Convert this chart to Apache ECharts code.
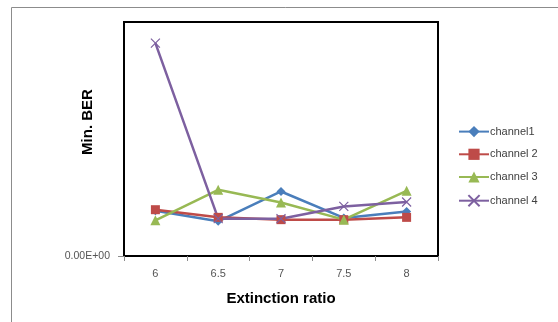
<!DOCTYPE html>
<html><head><meta charset="utf-8">
<script src="https://cdn.jsdelivr.net/npm/echarts@6/dist/echarts.min.js"></script>
<style>html,body{margin:0;padding:0;background:#fff}#c{width:558px;height:322px}</style>
</head><body><div id="c"></div>
<script>
const categories = ['6', '6.5', '7', '7.5', '8'];
const channel1 = [0.455, 0.348, 0.648, 0.382, 0.448];
const channel2 = [0.465, 0.388, 0.365, 0.365, 0.388];
const channel3 = [0.358, 0.665, 0.538, 0.365, 0.655];
const channel4 = [2.138, 0.375, 0.375, 0.498, 0.542];
const seriesNames = ['channel1', 'channel 2', 'channel 3', 'channel 4'];
const yMax = 2.35;

const chart = echarts.init(document.getElementById('c'), null, {renderer: 'canvas'});
const colors = ['#4A7EBB', '#BE4B48', '#98B954', '#7D60A0'];
const xPath = 'path://M0,0L10,10M10,0L0,10';
function mk(name, data, color, symbol, size, extra) {
  return Object.assign({
    name: name, type: 'line', data: data, symbol: symbol, symbolSize: size,
    showSymbol: true,
    lineStyle: {color: color, width: 2.5},
    itemStyle: {color: color},
    emphasis: {disabled: true},
    animation: false
  }, extra || {});
}
chart.setOption({
  animation: false,
  color: colors,
  graphic: [{
    type: 'rect', shape: {x: 11.5, y: 7.5, width: 700, height: 400},
    style: {fill: 'none', stroke: '#8c8c8c', lineWidth: 1}, silent: true
  }, {
    type: 'text', x: 88, y: 122, rotation: Math.PI / 2,
    style: {text: 'Min. BER', fontFamily: 'Liberation Sans, Arial', fontWeight: 'bold', fontSize: 15,
      fill: '#000', align: 'center', verticalAlign: 'middle'}, silent: true
  }],
  grid: {left: 124, top: 22, right: 120, bottom: 66, show: true, borderColor: '#000', borderWidth: 2, backgroundColor: '#fff'},
  legend: {
    orient: 'vertical', left: 453, top: 121, itemGap: 11.5, itemWidth: 30, itemHeight: 14,
    textStyle: {fontFamily: 'Liberation Sans, Arial', fontSize: 11, color: '#404040', padding: [0,0,0,-4]},
    data: seriesNames
  },
  xAxis: {
    type: 'category', data: categories, boundaryGap: true,
    name: 'Extinction ratio', nameLocation: 'middle', nameGap: 35,
    nameTextStyle: {fontFamily: 'Liberation Sans, Arial', fontWeight: 'bold', fontSize: 15, color: '#000'},
    axisLine: {lineStyle: {color: '#000', width: 2}},
    axisTick: {show: true, length: 5, lineStyle: {color: '#8c8c8c'}},
    axisLabel: {fontFamily: 'Liberation Sans, Arial', fontSize: 11, color: '#555', margin: 12}
  },
  yAxis: {
    type: 'value', min: 0, max: yMax, interval: yMax,
    splitLine: {show: false},
    axisLine: {show: true, lineStyle: {color: '#000', width: 2}},
    axisTick: {show: true, length: 6, customValues: [0], lineStyle: {color: '#8c8c8c'}},
    axisLabel: {fontFamily: 'Liberation Sans, Arial', fontSize: 10.5, color: '#555', margin: 14,
      customValues: [0], formatter: v => v === 0 ? '0.00E+00' : ''}
  },
  series: [
    mk(seriesNames[0], channel1, colors[0], 'diamond', 9),
    mk(seriesNames[1], channel2, colors[1], 'rect', 9),
    mk(seriesNames[2], channel3, colors[2], 'triangle', 10),
    mk(seriesNames[3], channel4, colors[3], xPath, 9, {itemStyle: {color: colors[3], borderColor: colors[3], borderWidth: 1.2}})
  ]
});
</script></body></html>
